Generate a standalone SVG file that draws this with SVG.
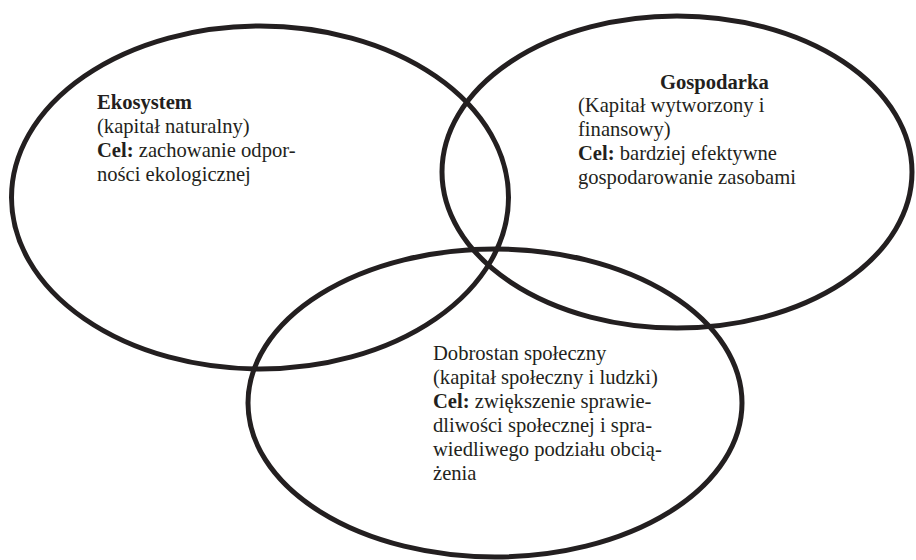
<svg xmlns="http://www.w3.org/2000/svg" width="916" height="560" viewBox="0 0 916 560">
<style>
.ring{fill:none;stroke:#231f20;stroke-width:5}
.t{font-size:20.6px;fill:#231f20}
.b{font-weight:bold}
</style>
<rect width="916" height="560" fill="#ffffff"/>
<g font-family="'Liberation Serif', 'Times New Roman', 'DejaVu Serif', serif">
<g id="ekosystem">
<ellipse class="ring" cx="260" cy="197.5" rx="248.5" ry="171.5"/>
<text class="t b" x="97" y="109">Ekosystem</text>
<text class="t" x="97" y="133">(kapitał naturalny)</text>
<text class="t" x="97" y="157"><tspan class="b">Cel:</tspan> zachowanie odpor-</text>
<text class="t" x="97" y="181">ności ekologicznej</text>
</g>
<g id="gospodarka">
<ellipse class="ring" cx="677" cy="172" rx="235" ry="156"/>
<text class="t b" x="660" y="89">Gospodarka</text>
<text class="t" x="578" y="112">(Kapitał wytworzony i</text>
<text class="t" x="578" y="136">finansowy)</text>
<text class="t" x="578" y="160"><tspan class="b">Cel:</tspan> bardziej efektywne</text>
<text class="t" x="578" y="184">gospodarowanie zasobami</text>
</g>
<g id="dobrostan">
<ellipse class="ring" cx="495" cy="403" rx="247" ry="154"/>
<text class="t" x="433" y="360">Dobrostan społeczny</text>
<text class="t" x="433" y="384">(kapitał społeczny i ludzki)</text>
<text class="t" x="433" y="408"><tspan class="b">Cel:</tspan> zwiększenie sprawie-</text>
<text class="t" x="433" y="432">dliwości społecznej i spra-</text>
<text class="t" x="433" y="456">wiedliwego podziału obcią-</text>
<text class="t" x="433" y="480">żenia</text>
</g>
</g>
<g id="connectors"/>
</svg>
